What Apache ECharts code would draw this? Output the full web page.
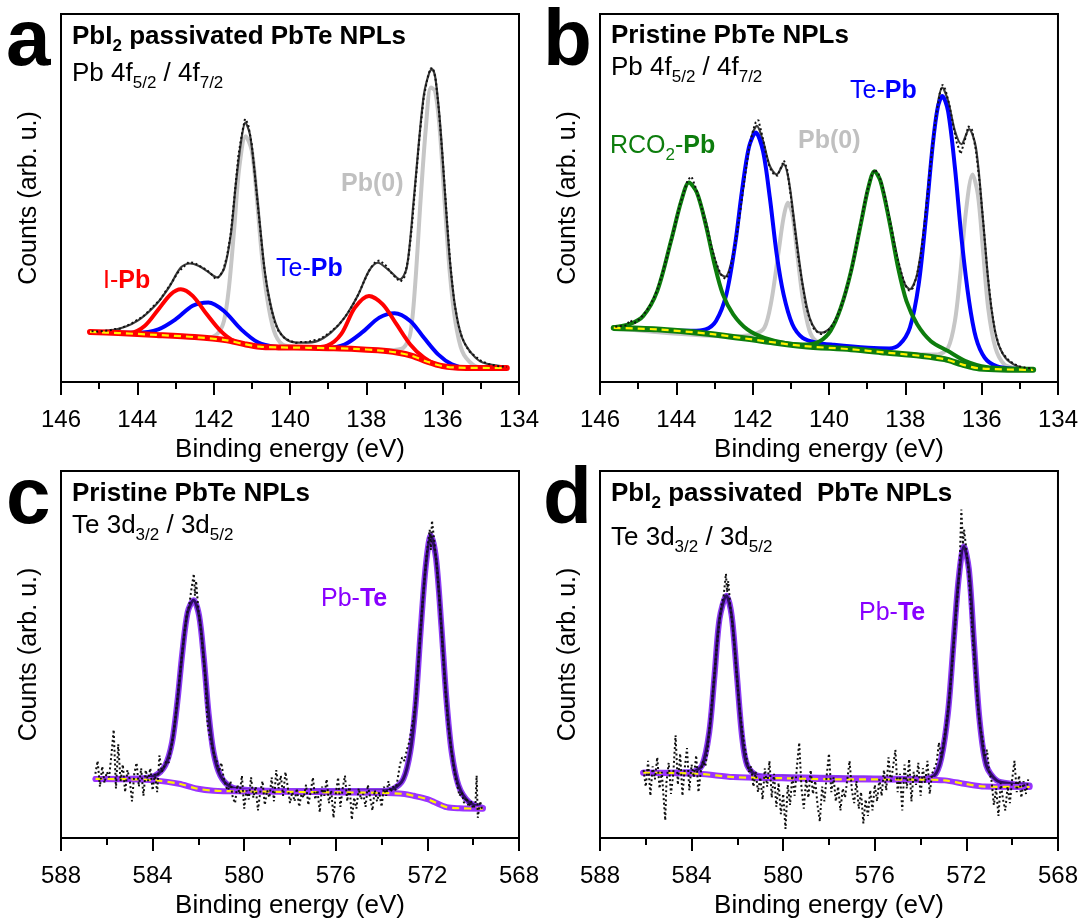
<!DOCTYPE html>
<html>
<head>
<meta charset="utf-8">
<script src="https://cdn.jsdelivr.net/npm/echarts@6.0.0/dist/echarts.min.js"></script>
<style>
  html, body { margin: 0; padding: 0; background: #fff; }
  #chart { width: 1081px; height: 920px; }
</style>
</head>
<body>
<div id="chart"></div>
<script>
// ---------- XPS spectra: [binding energy (eV), intensity (arb. u., 0-100)] ----------

// (a) PbI2 passivated PbTe NPLs, Pb 4f
const aCounts = [[145.2,13.8],[145.05,13.7],[144.9,13.9],[144.75,14.0],[144.6,14.4],[144.45,14.5],[144.3,15.2],[144.15,15.9],[144.0,16.9],[143.85,17.8],[143.7,19.3],[143.55,20.9],[143.4,22.4],[143.25,24.8],[143.1,27.0],[142.95,29.6],[142.8,31.2],[142.65,32.6],[142.5,32.3],[142.35,31.4],[142.2,30.6],[142.05,29.2],[141.95,28.0],[141.85,28.6],[141.75,30.4],[141.65,34.2],[141.55,40.5],[141.45,51.0],[141.35,61.8],[141.25,68.0],[141.18,71.5],[141.1,70.2],[141.0,64.5],[140.9,54.0],[140.8,43.5],[140.7,33.2],[140.6,25.5],[140.5,20.2],[140.4,16.3],[140.3,13.8],[140.15,12.0],[140.0,11.2],[139.85,10.6],[139.7,10.9],[139.55,10.8],[139.4,11.3],[139.25,11.5],[139.1,12.4],[138.95,13.5],[138.8,14.8],[138.65,16.4],[138.5,18.5],[138.35,21.0],[138.2,24.0],[138.05,27.6],[137.9,30.8],[137.75,32.8],[137.65,33.0],[137.5,31.8],[137.35,29.7],[137.2,28.0],[137.1,27.3],[137.0,28.6],[136.9,33.5],[136.8,43.0],[136.7,55.5],[136.6,67.5],[136.5,77.0],[136.4,82.5],[136.32,85.2],[136.25,85.3],[136.18,82.0],[136.1,74.0],[136.0,60.8],[135.9,46.0],[135.8,32.0],[135.7,22.0],[135.6,16.0],[135.5,12.3],[135.4,10.0],[135.3,8.3],[135.15,7.0],[135.0,5.8],[134.8,4.9],[134.6,4.4],[134.32,4.1]];
const aEnvelope = [[145.24,13.6],[144.54,14.3],[144.0,16.6],[143.54,20.7],[143.18,25.6],[142.86,31.1],[142.62,32.2],[142.4,31.6],[142.18,30.2],[141.91,28.4],[141.72,31.0],[141.55,40.1],[141.42,53.7],[141.28,65.5],[141.17,70.5],[141.05,67.3],[140.92,56.4],[140.78,41.9],[140.65,29.3],[140.47,19.3],[140.29,13.9],[140.01,11.1],[139.65,10.7],[139.29,11.1],[138.93,13.4],[138.57,17.5],[138.21,23.8],[137.93,30.2],[137.7,32.4],[137.39,30.2],[137.12,27.9],[136.94,31.1],[136.76,49.2],[136.62,65.5],[136.49,78.2],[136.35,84.1],[136.28,85.0],[136.2,83.2],[136.08,71.8],[135.95,52.8],[135.81,32.9],[135.67,20.2],[135.49,12.0],[135.22,7.5],[134.95,5.3],[134.32,4.1]];
const aPb0 = [[145.24,13.6],[143.0,12.7],[142.18,12.0],[141.91,13.0],[141.73,16.6],[141.6,25.6],[141.46,41.9],[141.33,58.2],[141.16,66.8],[141.0,62.8],[140.87,50.1],[140.74,34.7],[140.6,22.9],[140.42,13.9],[140.2,10.2],[139.83,9.5],[138.5,9.1],[137.39,8.7],[137.03,9.3],[136.85,13.0],[136.72,26.5],[136.58,49.2],[136.44,69.1],[136.31,80.0],[136.2,79.1],[136.08,69.1],[135.95,49.2],[135.81,29.3],[135.67,16.6],[135.49,8.4],[135.22,4.8],[134.95,3.9],[134.32,3.8]];
const aIPb = [[145.24,13.6],[144.17,13.4],[143.81,15.2],[143.45,19.7],[143.13,23.8],[142.86,25.2],[142.55,23.4],[142.18,18.4],[141.82,13.9],[141.46,11.1],[141.1,10.2],[140.74,9.6],[140.3,9.4],[139.47,9.4],[139.02,9.9],[138.66,13.0],[138.3,20.2],[137.93,23.4],[137.57,21.1],[137.21,15.7],[136.85,10.2],[136.49,6.6],[136.12,4.5],[135.76,3.9],[134.32,3.8]];
const aTePb = [[145.24,13.6],[144.0,13.4],[143.45,14.3],[143.0,17.0],[142.55,20.7],[142.14,21.6],[141.73,19.3],[141.28,14.3],[140.83,10.7],[140.38,9.5],[139.92,9.3],[139.02,9.3],[138.57,10.2],[138.12,13.4],[137.66,17.5],[137.26,18.7],[136.85,16.6],[136.49,12.0],[136.12,7.5],[135.76,4.8],[135.4,3.9],[134.32,3.8]];
const aBackground = [[145.24,13.6],[144.5,13.3],[143.5,12.8],[142.5,12.2],[141.7,11.4],[141.2,10.3],[140.8,9.6],[140.3,9.4],[139.5,9.3],[139.0,9.2],[138.3,9.0],[137.7,8.6],[137.2,8.0],[136.8,7.1],[136.4,5.5],[136.0,4.3],[135.6,3.9],[134.32,3.8]];

// (b) pristine PbTe NPLs, Pb 4f
const bCounts = [[145.6,15.0],[145.45,15.2],[145.3,15.4],[145.22,16.8],[145.1,16.0],[144.95,17.2],[144.8,19.0],[144.65,21.5],[144.5,25.0],[144.35,30.0],[144.2,35.8],[144.05,42.0],[143.9,48.3],[143.8,51.6],[143.7,55.0],[143.6,55.8],[143.5,53.0],[143.4,49.8],[143.3,46.0],[143.2,42.0],[143.1,37.5],[143.0,33.8],[142.9,30.8],[142.8,28.6],[142.7,28.0],[142.6,30.2],[142.5,35.0],[142.4,41.0],[142.3,48.5],[142.2,56.0],[142.1,63.2],[142.0,68.0],[141.92,70.6],[141.85,71.2],[141.75,67.0],[141.65,62.0],[141.55,58.2],[141.45,56.5],[141.35,56.0],[141.25,58.5],[141.18,60.2],[141.1,58.0],[141.0,50.5],[140.9,42.0],[140.8,33.5],[140.7,26.8],[140.6,20.5],[140.5,16.9],[140.4,14.5],[140.3,13.5],[140.2,13.0],[140.1,13.6],[140.0,14.3],[139.9,15.5],[139.8,17.5],[139.7,20.0],[139.6,23.0],[139.5,26.8],[139.4,31.0],[139.3,36.0],[139.2,41.5],[139.1,47.0],[139.0,51.8],[138.9,55.6],[138.8,57.8],[138.7,56.5],[138.6,53.3],[138.5,49.0],[138.4,43.6],[138.3,38.0],[138.2,33.5],[138.1,29.5],[138.0,26.3],[137.9,24.8],[137.8,25.5],[137.7,28.8],[137.6,34.0],[137.5,42.5],[137.4,52.5],[137.3,63.0],[137.2,72.0],[137.1,78.3],[137.03,80.8],[136.95,79.5],[136.85,75.5],[136.75,70.0],[136.65,65.0],[136.55,62.0],[136.45,65.3],[136.35,69.5],[136.25,68.5],[136.15,63.0],[136.05,54.0],[135.95,42.5],[135.85,30.0],[135.75,20.5],[135.65,13.8],[135.55,10.0],[135.45,7.8],[135.3,6.0],[135.15,4.9],[135.0,4.2],[134.8,3.8],[134.65,3.6]];
const bEnvelope = [[145.64,14.9],[145.23,15.5],[144.87,17.9],[144.5,24.7],[144.14,38.3],[143.87,49.2],[143.67,54.2],[143.46,51.4],[143.23,43.8],[143.05,35.6],[142.87,29.7],[142.72,28.6],[142.51,34.7],[142.32,47.4],[142.14,61.0],[142.01,67.3],[141.89,69.6],[141.73,65.5],[141.55,58.7],[141.37,56.4],[141.19,59.2],[141.05,54.6],[140.87,40.1],[140.69,26.5],[140.51,17.5],[140.33,13.9],[140.19,13.4],[139.96,14.8],[139.69,20.2],[139.42,30.2],[139.15,43.8],[138.97,52.8],[138.81,57.3],[138.65,54.6],[138.42,44.7],[138.19,32.9],[138.01,26.5],[137.88,25.2],[137.69,29.3],[137.51,41.9],[137.33,60.1],[137.15,75.5],[137.03,80.0],[136.88,76.4],[136.7,68.2],[136.53,64.6],[136.33,68.7],[136.15,63.7],[135.97,44.7],[135.79,23.8],[135.61,12.0],[135.38,6.6],[135.06,4.3],[134.65,3.6]];
const bPb0 = [[145.64,14.7],[142.5,12.4],[141.96,13.0],[141.69,14.8],[141.51,22.0],[141.33,34.7],[141.19,44.7],[141.08,48.7],[140.96,45.6],[140.83,34.7],[140.69,22.9],[140.51,13.9],[140.33,11.1],[139.9,9.6],[138.0,7.7],[137.15,7.5],[136.88,9.3],[136.7,16.6],[136.56,29.3],[136.42,45.6],[136.24,56.4],[136.1,51.0],[135.97,36.5],[135.83,20.2],[135.64,9.3],[135.41,4.8],[135.15,3.9],[134.65,3.3]];
const bTePb = [[145.64,14.7],[144.0,14.0],[143.6,13.9],[143.23,14.3],[142.96,16.6],[142.69,23.8],[142.46,37.4],[142.28,51.9],[142.1,63.7],[141.92,67.8],[141.73,62.8],[141.55,50.1],[141.37,34.7],[141.19,23.8],[140.96,15.7],[140.69,12.0],[140.33,10.7],[139.87,10.1],[138.97,9.3],[138.42,9.1],[138.15,10.2],[137.88,14.8],[137.65,26.5],[137.46,44.7],[137.28,64.6],[137.15,74.6],[137.03,77.7],[136.88,73.6],[136.7,58.2],[136.52,38.3],[136.33,22.0],[136.15,12.0],[135.92,6.6],[135.61,4.3],[135.15,3.6],[134.65,3.3]];
const bRCO2Pb = [[145.64,14.9],[145.23,15.7],[144.87,17.9],[144.5,24.7],[144.14,38.3],[143.87,49.2],[143.67,54.2],[143.46,51.4],[143.23,42.8],[143.0,32.0],[142.78,23.8],[142.51,18.4],[142.14,14.3],[141.69,12.0],[141.05,10.4],[140.6,10.2],[140.24,11.1],[139.96,13.9],[139.69,20.2],[139.42,30.2],[139.15,43.8],[138.97,52.8],[138.81,57.3],[138.65,54.6],[138.42,43.8],[138.19,31.1],[137.97,22.0],[137.69,15.7],[137.33,11.1],[136.88,8.4],[136.42,5.7],[135.88,4.1],[134.65,3.4]];
const bBackground = [[145.64,14.7],[144.5,14.3],[143.05,13.0],[141.69,11.1],[140.7,9.8],[139.42,8.9],[138.51,8.0],[137.6,7.1],[136.97,6.2],[136.52,4.8],[136.06,3.7],[134.65,3.3]];

// (c) pristine PbTe NPLs, Te 3d
const cCounts = [[586.5,17.5],[586.4,21.0],[586.3,14.0],[586.2,19.5],[586.1,15.0],[586.0,18.0],[585.9,16.5],[585.8,22.5],[585.7,29.5],[585.6,13.5],[585.5,25.5],[585.4,15.5],[585.3,20.0],[585.2,12.5],[585.1,18.5],[585.0,16.0],[584.9,10.0],[584.8,17.5],[584.7,20.5],[584.6,14.0],[584.5,19.0],[584.4,11.5],[584.3,18.5],[584.2,15.5],[584.1,19.0],[584.0,13.0],[583.9,17.5],[583.8,12.5],[583.7,22.5],[583.6,18.0],[583.5,19.5],[583.4,21.0],[583.3,20.5],[583.2,24.0],[583.1,28.0],[583.0,33.0],[582.9,39.0],[582.8,45.0],[582.7,51.0],[582.6,56.5],[582.5,61.0],[582.4,63.5],[582.3,68.0],[582.2,72.0],[582.15,66.0],[582.1,70.0],[582.0,62.0],[581.9,57.0],[581.8,50.5],[581.7,43.5],[581.6,31.0],[581.5,27.5],[581.4,25.0],[581.3,22.5],[581.2,21.0],[581.1,18.0],[581.0,20.5],[580.9,16.5],[580.8,14.0],[580.7,13.0],[580.6,15.5],[580.5,11.0],[580.4,9.5],[580.3,14.5],[580.2,12.0],[580.1,17.0],[580.0,8.0],[579.9,13.0],[579.8,10.5],[579.7,16.5],[579.6,11.0],[579.5,14.0],[579.4,7.5],[579.3,12.5],[579.2,15.5],[579.1,9.0],[579.0,13.0],[578.9,11.0],[578.8,16.5],[578.7,10.0],[578.6,18.5],[578.5,13.5],[578.4,17.0],[578.3,11.5],[578.2,18.0],[578.1,14.0],[578.0,9.5],[577.9,12.5],[577.8,10.0],[577.7,13.5],[577.6,8.5],[577.5,12.0],[577.4,11.0],[577.3,14.5],[577.2,9.0],[577.1,12.5],[577.0,16.5],[576.9,10.5],[576.8,13.0],[576.7,7.0],[576.6,14.0],[576.5,11.5],[576.4,16.0],[576.3,9.5],[576.2,13.0],[576.1,5.5],[576.0,12.0],[575.9,16.5],[575.8,8.5],[575.7,13.5],[575.6,17.0],[575.5,10.0],[575.4,14.5],[575.3,5.0],[575.2,11.0],[575.1,8.0],[575.0,13.5],[574.9,10.5],[574.8,12.0],[574.7,8.5],[574.6,14.5],[574.5,11.0],[574.4,7.5],[574.3,13.0],[574.2,10.0],[574.1,12.5],[574.0,8.5],[573.9,14.0],[573.8,11.5],[573.7,15.5],[573.6,12.5],[573.5,14.0],[573.4,13.0],[573.3,16.0],[573.2,20.0],[573.1,22.0],[573.0,21.0],[572.9,24.0],[572.8,26.0],[572.7,29.5],[572.6,33.0],[572.5,38.0],[572.4,47.0],[572.3,57.0],[572.2,65.0],[572.1,72.5],[572.0,79.0],[571.9,84.0],[571.85,78.5],[571.8,86.5],[571.7,81.0],[571.6,75.0],[571.5,67.0],[571.4,58.0],[571.3,48.0],[571.2,39.0],[571.1,31.0],[571.0,26.0],[570.9,21.5],[570.8,17.0],[570.7,14.5],[570.6,11.5],[570.5,12.5],[570.4,9.5],[570.3,11.0],[570.2,8.5],[570.1,10.0],[570.0,8.0],[569.9,9.5],[569.85,17.0],[569.8,5.5],[569.7,10.0],[569.6,7.5]];
const cFit = [[586.49,16.1],[584.65,16.2],[583.9,17.0],[583.45,19.8],[583.15,26.1],[582.92,37.0],[582.7,50.6],[582.47,61.5],[582.21,64.8],[581.97,60.6],[581.76,48.8],[581.56,34.3],[581.34,23.4],[581.04,17.0],[580.58,13.9],[579.83,13.1],[577.12,12.8],[574.1,12.8],[573.5,13.4],[573.05,16.1],[572.75,23.4],[572.52,36.1],[572.3,56.0],[572.07,74.2],[571.85,82.5],[571.62,76.0],[571.39,57.8],[571.17,37.9],[570.94,23.4],[570.64,14.3],[570.19,9.8],[569.58,8.2]];
const cBackground = [[586.49,16.1],[585.0,16.0],[583.9,15.7],[582.85,14.8],[582.09,13.5],[581.34,12.9],[580.0,12.7],[577.0,12.5],[574.1,12.3],[573.0,12.0],[572.6,11.5],[572.0,10.6],[571.7,9.8],[571.16,8.4],[570.6,8.1],[569.58,8.0]];

// (d) PbI2 passivated PbTe NPLs, Te 3d
const dCounts = [[586.1,18.5],[586.0,14.0],[585.9,21.0],[585.8,11.5],[585.7,19.5],[585.6,16.0],[585.5,22.0],[585.4,13.5],[585.3,18.0],[585.2,9.0],[585.15,4.8],[585.1,15.0],[585.0,20.5],[584.9,12.0],[584.8,17.5],[584.7,28.0],[584.6,14.5],[584.5,23.0],[584.4,11.5],[584.3,19.0],[584.2,24.5],[584.1,13.0],[584.0,20.0],[583.9,16.5],[583.8,22.5],[583.7,12.5],[583.6,18.0],[583.5,21.0],[583.4,19.5],[583.3,24.0],[583.2,31.0],[583.1,38.0],[583.0,45.0],[582.9,52.0],[582.8,58.0],[582.7,63.5],[582.6,66.0],[582.5,72.0],[582.45,67.0],[582.4,70.0],[582.3,62.5],[582.2,57.0],[582.1,50.0],[582.0,42.0],[581.9,35.0],[581.8,30.0],[581.7,25.5],[581.6,22.0],[581.5,18.0],[581.4,19.5],[581.3,14.0],[581.2,18.0],[581.1,12.5],[581.0,16.5],[580.9,10.5],[580.8,19.0],[580.7,14.0],[580.6,21.0],[580.5,11.0],[580.4,17.5],[580.3,8.5],[580.2,15.0],[580.1,6.5],[580.0,12.0],[579.9,2.5],[579.8,14.5],[579.7,9.0],[579.6,17.0],[579.5,11.5],[579.4,19.5],[579.3,26.0],[579.2,13.5],[579.1,8.0],[579.0,16.0],[578.9,11.0],[578.8,18.5],[578.7,12.0],[578.6,15.5],[578.5,9.0],[578.4,4.5],[578.3,14.0],[578.2,10.0],[578.1,17.0],[578.0,23.0],[577.9,12.5],[577.8,16.5],[577.7,10.0],[577.6,14.0],[577.5,7.5],[577.4,13.5],[577.3,11.0],[577.2,16.0],[577.1,21.0],[577.0,13.0],[576.9,9.5],[576.8,15.5],[576.7,8.0],[576.6,12.5],[576.5,4.0],[576.4,10.5],[576.3,6.0],[576.2,13.0],[576.1,7.5],[576.0,14.5],[575.9,10.0],[575.8,16.0],[575.7,11.5],[575.6,18.5],[575.5,13.0],[575.4,22.0],[575.3,15.0],[575.2,19.5],[575.1,24.0],[575.0,12.5],[574.9,17.5],[574.8,7.5],[574.7,20.0],[574.6,13.5],[574.5,21.5],[574.4,10.0],[574.3,18.0],[574.2,14.5],[574.1,20.5],[574.0,11.5],[573.9,19.0],[573.8,15.0],[573.7,21.0],[573.6,12.0],[573.5,17.5],[573.4,19.0],[573.3,20.5],[573.2,26.0],[573.1,22.0],[573.0,26.0],[572.9,30.0],[572.8,35.0],[572.7,41.0],[572.6,49.0],[572.5,57.0],[572.4,65.0],[572.3,73.0],[572.22,89.5],[572.15,80.0],[572.1,84.0],[572.0,78.5],[571.9,72.0],[571.8,62.0],[571.7,52.0],[571.6,44.0],[571.5,36.0],[571.4,30.0],[571.3,27.5],[571.2,22.0],[571.1,24.0],[571.0,18.0],[570.9,15.5],[570.8,9.0],[570.7,13.5],[570.6,6.0],[570.5,15.0],[570.4,10.5],[570.3,7.5],[570.2,14.0],[570.1,9.5],[570.0,16.0],[569.9,21.0],[569.8,12.5],[569.7,17.0],[569.6,11.0],[569.5,15.5],[569.4,12.0],[569.3,16.0]];
const dFit = [[586.11,17.8],[583.99,18.0],[583.54,19.8],[583.23,28.8],[583.0,44.2],[582.78,59.7],[582.48,66.0],[582.25,60.6],[582.02,44.2],[581.8,27.9],[581.57,19.8],[581.12,17.0],[580.06,16.6],[577.03,16.3],[574.01,16.1],[573.4,17.0],[573.1,21.6],[572.8,34.3],[572.57,52.4],[572.34,70.5],[572.11,79.4],[571.89,73.2],[571.66,52.4],[571.43,32.5],[571.13,19.8],[570.68,15.7],[570.07,14.8],[569.24,14.3]];
const dBackground = [[586.11,17.8],[583.69,17.5],[582.18,16.6],[580.06,16.3],[577.85,16.0],[574.01,15.9],[572.95,15.7],[572.03,14.7],[571.2,14.0],[569.24,13.9]];

// axis ranges and tick steps
const pbRange = [134, 146], pbStep = 2;
const teRange = [568, 588], teStep = 4;

// ---------- layout & styling ----------
const FONT = '"Liberation Sans", Arial, Helvetica, sans-serif';
const C = {
  red: '#ff0000', blue: '#0000ff', green: '#0d7d0d', pb0: '#c6c6c6',
  envelope: '#3c3c3c', yellow: '#fff200', violet: '#9a33ff',
  fitCore: '#2e0c64', fitHalo: '#8d3cf5', label: '#8800ff'
};
const grids = [
  { left: 61, top: 14, width: 458, height: 368 },
  { left: 600, top: 14, width: 458, height: 368 },
  { left: 61, top: 471, width: 458, height: 368 },
  { left: 600, top: 471, width: 458, height: 368 }
].map(g => Object.assign({ show: true, borderColor: '#000', borderWidth: 2, backgroundColor: 'transparent' }, g));

function xAxisFor(i, range, step) {
  return {
    type: 'value', gridIndex: i, inverse: true, min: range[0], max: range[1], interval: step,
    axisLine: { show: true, onZero: false, lineStyle: { color: '#000', width: 2 } },
    axisTick: { show: true, inside: false, length: 13, lineStyle: { color: '#000', width: 2 } },
    minorTick: { show: true, splitNumber: 2, length: 7, lineStyle: { color: '#000', width: 2 } },
    axisLabel: { show: true, fontSize: 24, color: '#000', fontFamily: FONT, margin: 26 },
    splitLine: { show: false }, minorSplitLine: { show: false },
    name: 'Binding energy (eV)', nameLocation: 'middle', nameGap: 55,
    nameTextStyle: { fontSize: 26, color: '#000', fontFamily: FONT }
  };
}
function yAxisFor(i) {
  return {
    type: 'value', gridIndex: i, min: 0, max: 100,
    axisLine: { show: false }, axisTick: { show: false }, axisLabel: { show: false },
    splitLine: { show: false },
    name: 'Counts (arb. u.)', nameLocation: 'middle', nameGap: 19, nameRotate: 90,
    nameTextStyle: { fontSize: 25, color: '#000', fontFamily: FONT }
  };
}

function curve(i, data, color, width, extra) {
  return Object.assign({
    type: 'line', xAxisIndex: i, yAxisIndex: i, data: data, symbol: 'none',
    smooth: 0.3, silent: true, animation: false,
    lineStyle: { color: color, width: width, cap: 'round', join: 'round' }
  }, extra || {});
}
function counts(i, data) {
  return curve(i, data, '#000', 2, {
    smooth: false,
    lineStyle: { color: '#111', width: 2, type: [2, 2.6], cap: 'butt' }
  });
}
function dashedBackground(i, data, color) {
  return [
    curve(i, data, color, 6),
    curve(i, data, C.yellow, 2.2, { lineStyle: { color: C.yellow, width: 2.2, type: [7, 5] } })
  ];
}

const series = [
  // (a)
  curve(0, aPb0, C.pb0, 4),
  curve(0, aEnvelope, C.envelope, 2.2),
  curve(0, aTePb, C.blue, 4),
  curve(0, aIPb, C.red, 4),
  ...dashedBackground(0, aBackground, C.red),
  counts(0, aCounts),
  // (b)
  curve(1, bPb0, C.pb0, 4),
  curve(1, bEnvelope, C.envelope, 2.2),
  curve(1, bTePb, C.blue, 4),
  curve(1, bRCO2Pb, C.green, 4),
  ...dashedBackground(1, bBackground, C.green),
  counts(1, bCounts),
  // (c)
  curve(2, cFit, C.fitHalo, 6),
  curve(2, cFit, C.fitCore, 3),
  ...dashedBackground(2, cBackground, C.violet),
  counts(2, cCounts),
  // (d)
  curve(3, dFit, C.fitHalo, 6),
  curve(3, dFit, C.fitCore, 3),
  ...dashedBackground(3, dBackground, C.violet),
  counts(3, dCounts)
];

// ---------- text (mixed weights and subscripts) ----------
const measureCtx = document.createElement('canvas').getContext('2d');
function fontStr(size, bold) { return (bold ? 'bold ' : '') + size + 'px ' + FONT; }
function textWidth(t, size, bold) { measureCtx.font = fontStr(size, bold); return measureCtx.measureText(t).width; }
// pieces: [text, size, bold, baselineShift]; x,y: left edge and baseline
function textRun(x, baseline, color, pieces) {
  const out = [];
  let cx = x;
  pieces.forEach(p => {
    const [t, s, b, dy] = p;
    out.push({
      type: 'text', x: cx, y: baseline + (dy || 0) - 0.36 * s, silent: true,
      style: { text: t, fill: color, font: fontStr(s, b), textAlign: 'left', textVerticalAlign: 'middle', align: 'left', verticalAlign: 'middle' }
    });
    cx += textWidth(t, s, b);
  });
  return out;
}
const T = 26, S = 17, L = 25, SUB = 6;
const graphics = [
  ...textRun(6, 72, '#000', [['a', 80, true]]),
  ...textRun(72, 46, '#000', [['PbI', T, true], ['2', S, true, SUB], [' passivated PbTe NPLs', T, true]]),
  ...textRun(72, 83, '#000', [['Pb 4f', T], ['5/2', S, false, SUB], [' / 4f', T], ['7/2', S, false, SUB]]),
  ...textRun(103, 290, C.red, [['I-', L], ['Pb', L, true]]),
  ...textRun(276, 278, C.blue, [['Te-', L], ['Pb', L, true]]),
  ...textRun(341, 193, '#c0c0c0', [['Pb(0)', L, true]]),

  ...textRun(543, 72, '#000', [['b', 80, true]]),
  ...textRun(611, 45, '#000', [['Pristine PbTe NPLs', T, true]]),
  ...textRun(611, 77, '#000', [['Pb 4f', T], ['5/2', S, false, SUB], [' / 4f', T], ['7/2', S, false, SUB]]),
  ...textRun(610, 155, C.green, [['RCO', L], ['2', S, false, SUB], ['-', L], ['Pb', L, true]]),
  ...textRun(798, 150, '#c0c0c0', [['Pb(0)', L, true]]),
  ...textRun(850, 100, C.blue, [['Te-', L], ['Pb', L, true]]),

  ...textRun(6, 530, '#000', [['c', 80, true]]),
  ...textRun(72, 503, '#000', [['Pristine PbTe NPLs', T, true]]),
  ...textRun(72, 535, '#000', [['Te 3d', T], ['3/2', S, false, SUB], [' / 3d', T], ['5/2', S, false, SUB]]),
  ...textRun(321, 608, C.label, [['Pb-', L], ['Te', L, true]]),

  ...textRun(543, 530, '#000', [['d', 80, true]]),
  ...textRun(611, 503, '#000', [['PbI', T, true], ['2', S, true, SUB], [' passivated  PbTe NPLs', T, true]]),
  ...textRun(611, 547, '#000', [['Te 3d', T], ['3/2', S, false, SUB], [' / 3d', T], ['5/2', S, false, SUB]]),
  ...textRun(859, 622, C.label, [['Pb-', L], ['Te', L, true]])
];

const chart = echarts.init(document.getElementById('chart'), null, { renderer: 'canvas' });
chart.setOption({
  backgroundColor: '#fff',
  animation: false,
  textStyle: { fontFamily: FONT },
  grid: grids,
  xAxis: [xAxisFor(0, pbRange, pbStep), xAxisFor(1, pbRange, pbStep), xAxisFor(2, teRange, teStep), xAxisFor(3, teRange, teStep)],
  yAxis: [yAxisFor(0), yAxisFor(1), yAxisFor(2), yAxisFor(3)],
  series: series,
  graphic: { elements: graphics }
});
</script>
</body>
</html>
